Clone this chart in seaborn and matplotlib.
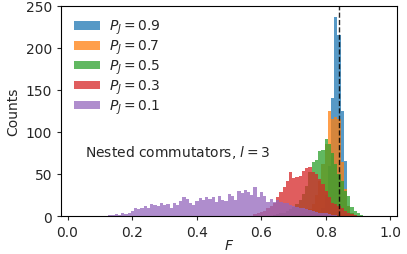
import numpy as np
import pandas as pd
import matplotlib
matplotlib.use("Agg")
import matplotlib.pyplot as plt
import seaborn as sns

# DATA (counts per bin of width 0.01, bins centred on x.xx1)
p_labels = ["0.9", "0.7", "0.5", "0.3", "0.1"]

start_09 = 0.771
counts_09 = [2, 4, 10, 25, 60, 140, 236, 215, 125, 65, 12, 4, 1]

start_07 = 0.711
counts_07 = [1, 2, 3, 5, 8, 14, 25, 42, 62, 85, 125, 115, 118, 115, 64, 32, 12, 4, 1]

start_05 = 0.641
counts_05 = [1, 2, 3, 4, 6, 8, 11, 14, 19, 26, 36, 52, 64, 66, 77, 78, 92,
             85, 75, 62, 50, 42, 30, 24, 11, 6, 3, 1]

start_03 = 0.581
counts_03 = [2, 3, 5, 6, 9, 12, 16, 22, 28, 34, 42, 52, 45, 46, 47, 54, 57,
             58, 52, 50, 44, 38, 30, 22, 16, 14, 12, 9, 6, 4, 2, 1]

start_01 = 0.131
counts_01 = [1, 1, 2, 1, 3, 2, 4, 6, 10, 8, 9, 12, 10, 14, 13, 12, 15, 13,
             14, 10, 16, 13, 18, 22, 20, 15, 13, 18, 21, 19, 22, 20, 22, 17,
             24, 19, 18, 26, 24, 19, 30, 27, 31, 28, 25, 35, 22, 28, 24, 17,
             20, 17, 19, 17, 15, 15, 13, 12, 11, 10, 9, 8, 7, 6, 5, 4, 3, 3,
             2, 1, 1]

f_ref = 0.842

starts = [start_09, start_07, start_05, start_03, start_01]
counts = [counts_09, counts_07, counts_05, counts_03, counts_01]

rows = []
for lab, s, c in zip(p_labels, starts, counts):
    for i, n in enumerate(c):
        rows.append({"F": round(s + 0.01 * i, 3), "count": n, "P": lab})
df = pd.DataFrame(rows)

# PLOT
sns.set_style("ticks")
plt.rcParams["font.family"] = ["DejaVu Sans"]
plt.rcParams["mathtext.fontset"] = "dejavusans"

fig = plt.figure(figsize=(4.07, 2.55), dpi=100)
ax = fig.add_axes([0.150, 0.149, 0.825, 0.825])

colors = sns.color_palette("tab10", 5)

for lab, col in zip(p_labels, colors):
    sub = df[df["P"] == lab]
    sns.histplot(data=sub, x="F", weights="count", binwidth=0.01,
                 binrange=(0.106, 0.946), color=col,
                 alpha=0.75, linewidth=0, ax=ax, label=rf"$P_J = {lab}$")

ax.axvline(f_ref, color="k", ls="--", lw=1, alpha=0.85)

ax.text(0.055, 77, r"Nested commutators, $l = 3$", fontsize=10, va="center")

ax.set_xlim(-0.02, 1.02)
ax.set_ylim(0, 250)
ax.set_xticks([0.0, 0.2, 0.4, 0.6, 0.8, 1.0])
ax.set_yticks([0, 50, 100, 150, 200, 250])
ax.tick_params(labelsize=10, length=3)
ax.set_xlabel(r"$F$", fontsize=10, labelpad=-1)
ax.set_ylabel("Counts", fontsize=10)

for sp in ax.spines.values():
    sp.set_color("black")
    sp.set_linewidth(0.8)

ax.legend(loc="upper left", frameon=False, fontsize=10, handlelength=1.9,
          handleheight=0.6, handletextpad=0.65, labelspacing=0.12,
          borderaxespad=0.5)

fig.savefig("out.png", dpi=100)
